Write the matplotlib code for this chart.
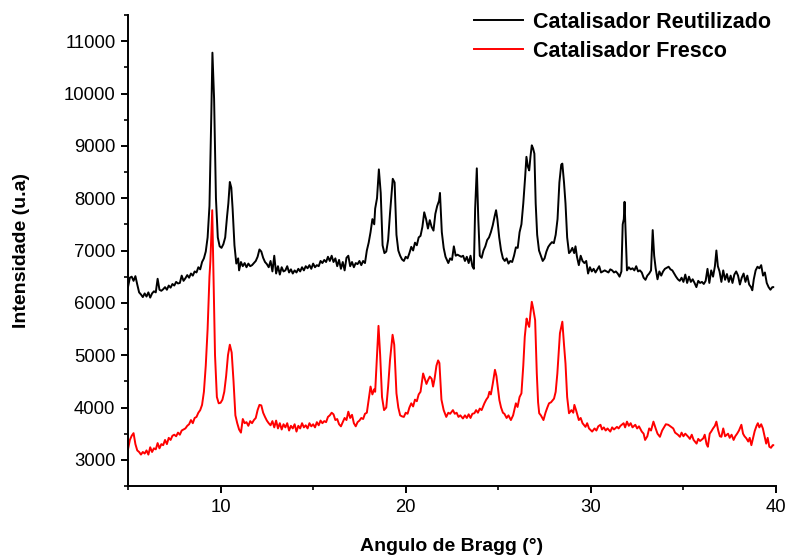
import numpy as np
import matplotlib
matplotlib.use('Agg')
import matplotlib.pyplot as plt
from matplotlib.ticker import MultipleLocator

plt.rcParams['font.family'] = ['Liberation Sans', 'DejaVu Sans']

# Catalisador Reutilizado (black)
reut_x = [5.0, 5.1, 5.2, 5.3, 5.4, 5.5, 5.6, 5.7, 5.8, 5.9, 6.0, 6.1, 6.2, 6.3, 6.4, 6.5, 6.6, 6.7, 6.8, 6.9,
          7.0, 7.1, 7.2, 7.3, 7.4, 7.5, 7.6, 7.7, 7.8, 7.9, 8.0, 8.1, 8.2, 8.3, 8.4, 8.5, 8.6, 8.7, 8.8, 8.9,
          9.0, 9.1, 9.2, 9.3, 9.4, 9.5, 9.56, 9.65, 9.75, 9.85, 9.95, 10.05, 10.15, 10.25, 10.35, 10.42, 10.5,
          10.58, 10.65, 10.75, 10.85, 10.95, 11.0, 11.1, 11.2, 11.3, 11.4, 11.5, 11.6, 11.7, 11.8, 11.9,
          12.0, 12.1, 12.2, 12.3, 12.4, 12.5, 12.6, 12.7, 12.8, 12.9, 13.0, 13.1, 13.2, 13.3, 13.4, 13.5,
          13.6, 13.7, 13.8, 13.9, 14.0, 14.1, 14.2, 14.3, 14.4, 14.5, 14.6, 14.7, 14.8, 14.9, 15.0, 15.1,
          15.2, 15.3, 15.4, 15.5, 15.6, 15.7, 15.8, 15.9, 16.0, 16.1, 16.2, 16.3, 16.4, 16.5, 16.6, 16.7,
          16.8, 16.9, 17.0, 17.1, 17.2, 17.3, 17.4, 17.5, 17.6, 17.7, 17.8, 17.9, 18.0, 18.1, 18.2, 18.3,
          18.35, 18.45, 18.55, 18.65, 18.75, 18.85, 18.95, 19.05, 19.15, 19.3, 19.4, 19.5, 19.6, 19.7, 19.8,
          19.9, 20.0, 20.1, 20.2, 20.3, 20.4, 20.5, 20.6, 20.7, 20.8, 20.9, 21.0, 21.1, 21.2, 21.3, 21.4,
          21.5, 21.6, 21.7, 21.8, 21.85, 21.95, 22.05, 22.15, 22.3, 22.4, 22.5, 22.6, 22.7, 22.8, 22.9,
          23.0, 23.1, 23.2, 23.3, 23.4, 23.5, 23.6, 23.68, 23.75, 23.84, 23.92, 24.0, 24.1, 24.2, 24.3,
          24.4, 24.5, 24.6, 24.7, 24.8, 24.88, 24.95, 25.05, 25.15, 25.25, 25.35, 25.45, 25.55, 25.65,
          25.75, 25.85, 25.95, 26.05, 26.15, 26.25, 26.35, 26.45, 26.52, 26.6, 26.67, 26.74, 26.81, 26.88,
          26.95, 27.02, 27.1, 27.2, 27.3, 27.4, 27.5, 27.6, 27.7, 27.8, 27.9, 28.0, 28.1, 28.2, 28.3, 28.4,
          28.46, 28.55, 28.63, 28.72, 28.82, 28.9, 29.0, 29.1, 29.17, 29.25, 29.35, 29.45, 29.55, 29.65,
          29.75, 29.85, 29.95, 30.05, 30.15, 30.25, 30.35, 30.45, 30.55, 30.65, 30.75, 30.85, 30.95, 31.05,
          31.15, 31.25, 31.35, 31.45, 31.55, 31.65, 31.72, 31.78, 31.82, 31.88, 31.95, 32.05, 32.15, 32.25,
          32.35, 32.45, 32.55, 32.65, 32.75, 32.85, 32.95, 33.05, 33.15, 33.25, 33.34, 33.42, 33.5, 33.6,
          33.7, 33.8, 33.9, 34.0, 34.1, 34.2, 34.3, 34.4, 34.5, 34.6, 34.7, 34.8, 34.9, 35.0, 35.1, 35.2,
          35.3, 35.4, 35.5, 35.6, 35.7, 35.8, 35.9, 36.0, 36.1, 36.2, 36.3, 36.4, 36.5, 36.6, 36.7, 36.78,
          36.86, 36.95, 37.05, 37.15, 37.25, 37.35, 37.45, 37.55, 37.65, 37.75, 37.85, 37.95, 38.05, 38.15,
          38.25, 38.35, 38.45, 38.55, 38.65, 38.72, 38.8, 38.9, 39.0, 39.1, 39.2, 39.3, 39.4, 39.5, 39.6,
          39.7, 39.8, 39.85]
reut_y = [6300, 6480, 6500, 6420, 6510, 6350, 6200, 6160, 6110, 6180, 6120, 6200, 6100, 6180, 6220, 6200, 6460, 6250, 6230, 6260,
          6300, 6250, 6330, 6290, 6360, 6330, 6400, 6370, 6380, 6520, 6420, 6470, 6530, 6480, 6560, 6520, 6600, 6580, 6680, 6640,
          6780, 6850, 6980, 7250, 7850, 9600, 10780, 9900, 8000, 7250, 7080, 7050, 7120, 7250, 7650, 7900, 8310,
          8200, 7800, 7100, 6750, 6850, 6620, 6780, 6700, 6760, 6680, 6750, 6700, 6720, 6760, 6800,
          6880, 7020, 6980, 6860, 6780, 6740, 6680, 6800, 6600, 6900, 6560, 6700, 6540, 6680, 6600, 6620,
          6700, 6580, 6640, 6560, 6620, 6580, 6650, 6600, 6680, 6620, 6700, 6660, 6720, 6650, 6750, 6680,
          6720, 6700, 6800, 6760, 6820, 6780, 6880, 6800, 6900, 6780, 6850, 6700, 6820, 6650, 6780, 6620,
          6860, 6900, 6700, 6780, 6680, 6760, 6740, 6800, 6720, 6800, 6760, 7000, 7150, 7350, 7600, 7500,
          7800, 8000, 8550, 8100, 7100, 6950, 6980, 7200, 7700, 8370, 8300, 7300, 7000, 6900, 6830,
          6800, 6880, 6850, 6950, 7070, 7000, 7150, 7100, 7250, 7280, 7450, 7730, 7600, 7420, 7580, 7450,
          7380, 7700, 7850, 7950, 8100, 7350, 7050, 6880, 6760, 6850, 6820, 7080, 6900, 6920, 6900,
          6880, 6900, 6800, 6880, 6760, 6900, 6700, 6650, 7800, 8570, 7600, 6900, 6860, 7000, 7080,
          7200, 7250, 7350, 7480, 7650, 7770, 7600, 7250, 7000, 6850, 6800, 6850, 6750, 6800,
          6780, 6900, 7060, 7050, 7350, 7500, 7900, 8400, 8790, 8600, 8530, 8800, 9010, 8950,
          8850, 7900, 7300, 7000, 6900, 6800, 6850, 6980, 7070, 7120, 7160, 7140, 7300, 7600, 8300, 8640,
          8660, 8300, 7900, 7250, 6950, 6980, 7050, 6950, 7080, 6880, 6720, 6900, 6800, 6760,
          6800, 6560, 6680, 6600, 6650, 6580, 6640, 6700, 6580, 6600, 6620, 6600, 6580, 6640,
          6620, 6580, 6600, 6560, 6500, 6600, 7500, 7600, 7930, 7300, 6620, 6680, 6640, 6660,
          6620, 6700, 6600, 6620, 6580, 6480, 6440, 6520, 6560, 6620, 7390, 6900, 6660, 6450,
          6600, 6520, 6600, 6650, 6670, 6690, 6640, 6620, 6560, 6500, 6450, 6420, 6480, 6400, 6540, 6380,
          6500, 6400, 6450, 6380, 6300, 6420, 6380, 6400, 6360, 6420, 6650, 6380, 6620, 6500, 6700, 7000,
          6700, 6600, 6400, 6620, 6440, 6550, 6400, 6520, 6380, 6540, 6600, 6520, 6350, 6480,
          6560, 6400, 6520, 6350, 6300, 6240, 6450, 6620, 6690, 6660, 6720, 6520, 6580, 6380, 6300,
          6250, 6300, 6300]

# Catalisador Fresco (red)
fresco_x = [5.0, 5.1, 5.2, 5.3, 5.4, 5.5, 5.6, 5.7, 5.8, 5.9, 6.0, 6.1, 6.2, 6.3, 6.4, 6.5, 6.6, 6.7, 6.8, 6.9,
            7.0, 7.1, 7.2, 7.3, 7.4, 7.5, 7.6, 7.7, 7.8, 7.9, 8.0, 8.1, 8.2, 8.3, 8.4, 8.5, 8.6, 8.7, 8.8, 8.9,
            9.0, 9.1, 9.2, 9.3, 9.4, 9.45, 9.55, 9.62, 9.7, 9.8, 9.9, 10.0, 10.1, 10.2, 10.3, 10.4, 10.5, 10.6,
            10.7, 10.8, 10.9, 11.0, 11.1, 11.2, 11.3, 11.4, 11.5, 11.6, 11.7, 11.8, 11.9, 12.0, 12.1, 12.2,
            12.3, 12.4, 12.5, 12.6, 12.7, 12.8, 12.9, 13.0, 13.1, 13.2, 13.3, 13.4, 13.5, 13.6, 13.7, 13.8,
            13.9, 14.0, 14.1, 14.2, 14.3, 14.4, 14.5, 14.6, 14.7, 14.8, 14.9, 15.0, 15.1, 15.2, 15.3, 15.4,
            15.5, 15.6, 15.7, 15.8, 15.9, 16.0, 16.1, 16.2, 16.3, 16.4, 16.5, 16.6, 16.7, 16.8, 16.9, 17.0,
            17.1, 17.2, 17.3, 17.4, 17.5, 17.6, 17.7, 17.8, 17.9, 18.0, 18.1, 18.2, 18.3, 18.35, 18.45, 18.53,
            18.62, 18.72, 18.83, 18.95, 19.05, 19.15, 19.29, 19.38, 19.5, 19.6, 19.7, 19.8, 19.9, 20.0, 20.1,
            20.2, 20.3, 20.4, 20.5, 20.6, 20.7, 20.8, 20.94, 21.03, 21.12, 21.2, 21.3, 21.4, 21.48, 21.56,
            21.66, 21.75, 21.82, 21.93, 22.05, 22.19, 22.3, 22.4, 22.55, 22.65, 22.75, 22.85, 22.95, 23.09,
            23.2, 23.3, 23.4, 23.5, 23.6, 23.71, 23.8, 23.9, 24.0, 24.1, 24.25, 24.35, 24.45, 24.52, 24.6,
            24.7, 24.82, 24.9, 24.97, 25.06, 25.15, 25.25, 25.33, 25.45, 25.55, 25.68, 25.8, 25.95, 26.04,
            26.15, 26.25, 26.35, 26.43, 26.53, 26.6, 26.67, 26.74, 26.81, 26.88, 26.99, 27.08, 27.15, 27.21,
            27.3, 27.44, 27.55, 27.65, 27.74, 27.85, 28.01, 28.1, 28.19, 28.27, 28.33, 28.46, 28.55, 28.63,
            28.72, 28.82, 28.95, 29.05, 29.11, 29.2, 29.35, 29.45, 29.55, 29.71, 29.8, 29.9, 30.07, 30.2,
            30.3, 30.4, 30.52, 30.6, 30.7, 30.8, 30.9, 31.05, 31.15, 31.25, 31.41, 31.5, 31.6, 31.77, 31.85,
            31.95, 32.05, 32.15, 32.25, 32.4, 32.5, 32.6, 32.75, 32.85, 32.93, 33.05, 33.15, 33.25, 33.38,
            33.5, 33.6, 33.73, 33.85, 33.95, 34.05, 34.18, 34.3, 34.45, 34.55, 34.7, 34.81, 34.9, 35.0, 35.1,
            35.26, 35.35, 35.45, 35.55, 35.71, 35.8, 35.9, 36.07, 36.15, 36.25, 36.32, 36.42, 36.5, 36.6,
            36.7, 36.78, 36.88, 36.97, 37.05, 37.15, 37.25, 37.41, 37.5, 37.6, 37.71, 37.8, 37.9, 38.0,
            38.13, 38.22, 38.3, 38.4, 38.5, 38.58, 38.67, 38.75, 38.85, 38.95, 39.02, 39.1, 39.2, 39.29,
            39.38, 39.47, 39.55, 39.64, 39.73, 39.82, 39.85]
fresco_y = [3200, 3380, 3460, 3510, 3300, 3180, 3150, 3100, 3150, 3120, 3180, 3100, 3240, 3150, 3220, 3200, 3320, 3220, 3300, 3280,
            3380, 3300, 3420, 3380, 3460, 3480, 3450, 3520, 3480, 3560, 3580, 3600, 3650, 3680, 3760, 3700, 3800, 3820, 3900, 3950,
            4050, 4300, 4800, 5500, 6500, 6800, 7770, 6500, 5000, 4200, 4080, 4090, 4150, 4300, 4600, 5000, 5200, 5050,
            4500, 3850, 3700, 3580, 3520, 3780, 3700, 3720, 3650, 3740, 3700, 3760, 3800, 3950, 4050, 4040,
            3900, 3820, 3750, 3700, 3660, 3740, 3620, 3750, 3600, 3700, 3580, 3680, 3620, 3700, 3560, 3650,
            3600, 3680, 3540, 3650, 3600, 3700, 3620, 3660, 3600, 3700, 3640, 3680, 3620, 3720, 3660, 3750,
            3700, 3740, 3720, 3820, 3850, 3900, 3870, 3760, 3780, 3680, 3640, 3720, 3800, 3760, 3920, 3800,
            3860, 3700, 3640, 3720, 3750, 3800, 3780, 3880, 3900, 4150, 4400, 4250, 4350, 4300, 5000, 5560,
            5000, 4200, 3950, 4000, 4400, 4900, 5390, 5200, 4270, 4000, 3850, 3830, 3820, 3900, 3880,
            4000, 4080, 4020, 4150, 4120, 4250, 4300, 4650, 4550, 4450, 4520, 4590, 4550, 4400, 4550,
            4800, 4900, 4850, 4150, 3950, 3820, 3900, 3880, 3950, 3880, 3900, 3820, 3850, 3790,
            3850, 3800, 3870, 3800, 3880, 3890, 3950, 3900, 3980, 3950, 4080, 4150, 4200, 4300, 4250,
            4450, 4720, 4600, 4400, 4140, 4000, 3900, 3880, 3800, 3850, 3760, 3850, 4080, 4010,
            4200, 4270, 4800, 5350, 5700, 5600, 5540, 5800, 6020, 5900, 5670, 4650, 4100, 3890,
            3850, 3760, 3900, 4000, 4080, 4100, 4170, 4300, 4650, 5100, 5420, 5640, 5200, 4840,
            4200, 3890, 3950, 3900, 4050, 3950, 3760, 3800, 3700, 3630, 3700, 3600, 3540, 3600,
            3560, 3640, 3670, 3580, 3620, 3560, 3600, 3540, 3620, 3580, 3630, 3600, 3650, 3700, 3620,
            3730, 3650, 3700, 3620, 3670, 3600, 3640, 3540, 3500, 3380, 3450, 3600, 3560, 3730,
            3600, 3500, 3440, 3560, 3620, 3680, 3670, 3640, 3600, 3520, 3480, 3440, 3520, 3450, 3500,
            3440, 3400, 3480, 3380, 3310, 3400, 3360, 3410, 3480, 3300, 3250, 3500, 3540, 3600,
            3650, 3730, 3560, 3450, 3440, 3600, 3450, 3500, 3420, 3480, 3380, 3450, 3500, 3560,
            3670, 3500, 3450, 3410, 3350, 3420, 3280, 3400, 3550, 3650, 3700, 3620, 3680, 3600,
            3450, 3310, 3420, 3250, 3230, 3280, 3280]

series_labels = ['Catalisador Reutilizado', 'Catalisador Fresco']

fig = plt.figure(figsize=(7.88, 5.59), dpi=100)
ax = fig.add_axes([128 / 788, 73 / 559, 648 / 788, 471 / 559])

ax.plot(reut_x, reut_y, color='black', lw=1.4, label=series_labels[0])
ax.plot(fresco_x, fresco_y, color='red', lw=1.4, label=series_labels[1])

ax.set_xlim(5, 40)
ax.set_ylim(2500, 11500)
ax.xaxis.set_major_locator(MultipleLocator(10))
ax.xaxis.set_minor_locator(MultipleLocator(5))
ax.yaxis.set_minor_locator(MultipleLocator(500))
ax.set_yticks(np.arange(3000, 11001, 1000))

for side in ['top', 'right']:
    ax.spines[side].set_visible(False)
for side in ['left', 'bottom']:
    ax.spines[side].set_linewidth(1.4)

ax.tick_params(which='major', direction='out', length=5, width=1.4, labelsize=13.3, pad=4)
ax.tick_params(which='minor', direction='out', length=3, width=1.2)

ax.set_xlabel('Angulo de Bragg (°)', fontsize=14, fontweight='bold', labelpad=16)
ax.set_ylabel('Intensidade (u.a)', fontsize=14, fontweight='bold', labelpad=24)

ax.legend(loc='upper right', bbox_to_anchor=(771 / 788, 1 - 12 / 559),
          bbox_transform=fig.transFigure, frameon=False, borderaxespad=0, borderpad=0,
          prop={'weight': 'bold', 'size': 15.5}, handlelength=2.3, handletextpad=0.45,
          labelspacing=0.35)

fig.savefig('out.png', dpi=100)
